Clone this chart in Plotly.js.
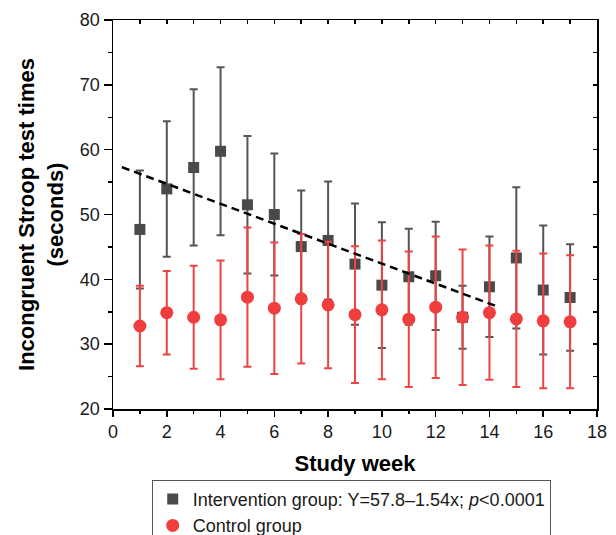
<!DOCTYPE html>
<html>
<head>
<meta charset="utf-8">
<script src="https://cdn.plot.ly/plotly-3.0.1.min.js"></script>
<style>html,body{margin:0;padding:0;background:#fff;}#chart{width:616px;height:535px;}</style>
</head>
<body>
<div id="chart"></div>
<script>
// Study weeks
var weeks = [1, 2, 3, 4, 5, 6, 7, 8, 9, 10, 11, 12, 13, 14, 15, 16, 17];
// Intervention group means and SDs (seconds)
var interventionMean = [47.7, 53.95, 57.25, 59.75, 51.5, 50.0, 45.05, 46.0, 42.35, 39.1, 40.4, 40.55, 34.15, 38.85, 43.3, 38.35, 37.2];
var interventionSD   = [9.1, 10.45, 12.05, 12.95, 10.6, 9.4, 8.65, 9.1, 9.35, 9.7, 7.4, 8.35, 4.85, 7.75, 10.9, 9.95, 8.2];
// Control group means and SDs (seconds)
var controlMean = [32.8, 34.85, 34.15, 33.75, 37.25, 35.55, 37.0, 36.05, 34.55, 35.3, 33.85, 35.7, 34.15, 34.85, 33.9, 33.6, 33.45];
var controlSD   = [6.2, 6.45, 7.95, 9.15, 10.75, 10.15, 10.0, 9.75, 10.55, 10.7, 10.45, 10.9, 10.45, 10.35, 10.5, 10.4, 10.25];
// Regression line endpoints (Y = 57.8 - 1.54x)
var fitX = [0.33, 14.3];
var fitY = [57.3, 35.8];
// Labels
var interventionName = 'Intervention group: Y=57.8\u20131.54x; <i>p</i><0.0001';
var controlName = 'Control group';
var xTitle = '<b>Study week</b>';
var yTitle = '<b>Incongruent Stroop test times<br>(seconds)</b>';

var FONT = 'Liberation Sans, Arial, Helvetica, sans-serif';
var GRAY = '#4a4a4a';
var RED = '#f03e3e';

var traces = [
  {
    type: 'scatter', mode: 'markers', name: interventionName,
    x: weeks, y: interventionMean,
    marker: {symbol: 'square', size: 11, color: GRAY},
    error_y: {type: 'data', array: interventionSD, visible: true, color: '#555555', thickness: 2, width: 4},
    hoverinfo: 'skip'
  },
  {
    type: 'scatter', mode: 'markers', name: controlName,
    x: weeks, y: controlMean,
    marker: {symbol: 'circle', size: 13, color: RED},
    error_y: {type: 'data', array: controlSD, visible: true, color: '#ee4444', thickness: 2, width: 4},
    hoverinfo: 'skip'
  },
  {
    type: 'scatter', mode: 'lines', x: fitX, y: fitY, showlegend: false,
    line: {color: '#000000', width: 2.5, dash: '8px,5px'},
    hoverinfo: 'skip'
  },
  {
    type: 'scatter', mode: 'markers', x: [], y: [], xaxis: 'x2', yaxis: 'y2',
    showlegend: false, hoverinfo: 'skip'
  }
];

var layout = {
  width: 616, height: 535,
  margin: {l: 113, r: 19, t: 20, b: 126, pad: 0, autoexpand: false},
  paper_bgcolor: '#ffffff', plot_bgcolor: '#ffffff',
  font: {family: FONT, color: '#1a1a1a'},
  showlegend: true,
  legend: {
    x: 0.08, y: -0.182, xanchor: 'left', yanchor: 'top',
    bordercolor: '#555555', borderwidth: 1, bgcolor: '#ffffff',
    font: {family: FONT, size: 18, color: '#1a1a1a'},
    tracegroupgap: 0
  },
  xaxis: {
    range: [0, 18], tick0: 0, dtick: 2, ticks: 'outside', ticklen: 6, tickwidth: 1.5, tickcolor: '#000',
    minor: {dtick: 1, ticks: 'outside', ticklen: 3, tickwidth: 1.5, tickcolor: '#000'},
    showline: true, linecolor: '#000', linewidth: 1.5, showgrid: false, zeroline: false,
    tickfont: {family: FONT, size: 18, color: '#1a1a1a'},
    title: {text: xTitle, font: {family: FONT, size: 22, color: '#000'}, standoff: 14}
  },
  yaxis: {
    range: [20, 80], tick0: 20, dtick: 10, ticks: 'outside', ticklen: 8, tickwidth: 1.5, tickcolor: '#000',
    minor: {dtick: 5, ticks: 'outside', ticklen: 4, tickwidth: 1.5, tickcolor: '#000'},
    showline: true, linecolor: '#000', linewidth: 1.5, showgrid: false, zeroline: false,
    tickfont: {family: FONT, size: 18, color: '#1a1a1a'},
    title: {text: yTitle, font: {family: FONT, size: 22, color: '#000'}, standoff: 10}
  },
  xaxis2: {
    overlaying: 'x', side: 'top', anchor: 'y', range: [0, 18], tick0: 0, dtick: 1,
    ticks: 'inside', ticklen: 4, tickwidth: 1.5, tickcolor: '#000',
    showline: true, linecolor: '#000', linewidth: 1.5, showgrid: false, zeroline: false, showticklabels: false
  },
  yaxis2: {
    overlaying: 'y', side: 'right', anchor: 'x', range: [20, 80], tick0: 20, dtick: 5,
    ticks: 'inside', ticklen: 4, tickwidth: 1.5, tickcolor: '#000',
    showline: true, linecolor: '#000', linewidth: 1.5, showgrid: false, zeroline: false, showticklabels: false
  }
};

Plotly.newPlot('chart', traces, layout, {displayModeBar: false, staticPlot: true});
</script>
</body>
</html>
